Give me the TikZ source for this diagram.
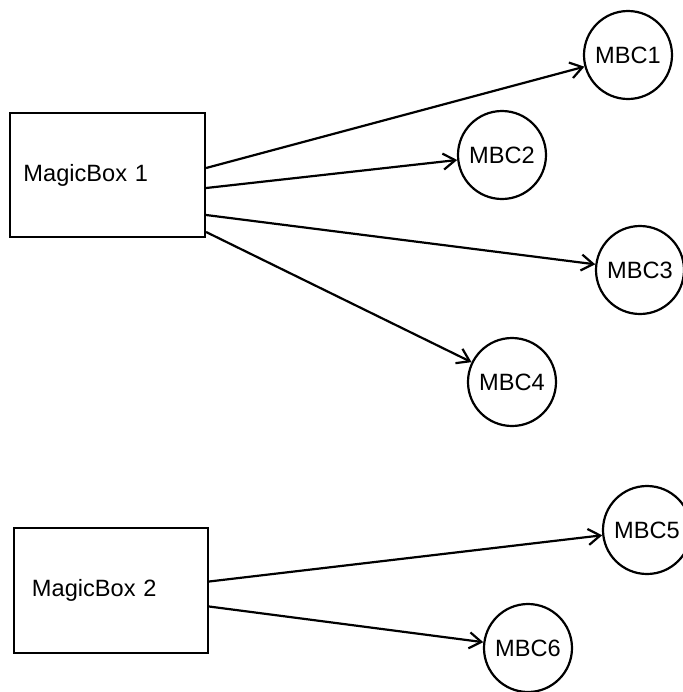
\documentclass[tikz,border=0pt]{standalone}
\usepackage{fontspec}
\setmainfont{Liberation Sans}
\usetikzlibrary{arrows.meta, positioning}

\begin{document}
\begin{tikzpicture}
        [
          x=0.5pt, y=-0.5pt,
          every node/.style={font=\fontsize{11.8pt}{13pt}\selectfont},
          magicbox/.style={draw, line width=1.1pt, rectangle, align=left},
          mbc/.style={draw, line width=1.1pt, circle, minimum size=44pt, inner sep=0pt},
          >={Straight Barb[length=6pt, width=8pt]}
        ]
        \useasboundingbox (0,0) rectangle (683,692);

        % boxes
        \node[magicbox, minimum width=97.5pt, minimum height=62pt,
              text width=84pt, inner xsep=6.5pt] (mb1) at (107.5,175) {MagicBox 1};
        \node[magicbox, minimum width=97pt, minimum height=62.5pt,
              text width=79pt, inner xsep=9pt] (mb2) at (111,590.5) {MagicBox 2};

        % circles
        \node[mbc] (c1) at (628,55) {MBC1};
        \node[mbc] (c2) at (502,155) {MBC2};
        \node[mbc] (c3) at (640,270) {MBC3};
        \node[mbc] (c4) at (512,382) {MBC4};
        \node[mbc] (c5) at (647,530) {MBC5};
        \node[mbc] (c6) at (528,648) {MBC6};

        \path[->, line width=1.1pt]
                          ([yshift=3.5pt]mb1.east) edge (c1)
                          ([yshift=-6.5pt]mb1.east) edge (c2)
                          ([yshift=-20pt]mb1.east) edge (c3)
                          ([yshift=-28.5pt]mb1.east) edge (c4)
                          ([yshift=4.5pt]mb2.east) edge (c5)
                          ([yshift=-8pt]mb2.east) edge (c6);
      \end{tikzpicture}
\end{document}
